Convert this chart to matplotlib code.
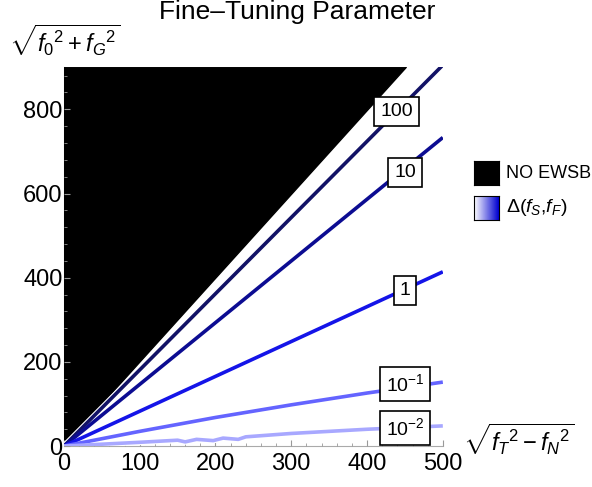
import numpy as np
import matplotlib.pyplot as plt
from matplotlib.ticker import MultipleLocator

plt.rcParams['font.family'] = ['Liberation Sans', 'DejaVu Sans']
plt.rcParams['mathtext.fontset'] = 'custom'
plt.rcParams['mathtext.rm'] = 'Liberation Sans'
plt.rcParams['mathtext.it'] = 'Liberation Sans:italic'
plt.rcParams['mathtext.sf'] = 'Liberation Sans'

# region with no EWSB (upper-left wedge)
noewsb_x = [0, 452, 0]
noewsb_y = [0, 900, 900]

# fine-tuning contours
contour_labels = ['100', '10', '1', r'$10^{-1}$', r'$10^{-2}$']
contour_colors = ['#121266', '#0c0c92', '#1414e8', '#6464ff', '#a8a8ff']
contour_x = [
    [0, 500],
    [0, 500],
    [0, 500],
    [0, 100, 200, 300, 400, 500],
    [0, 100, 150, 160, 175, 197, 210, 230, 240, 300, 400, 500],
]
contour_y = [
    [0, 905],
    [0, 733],
    [0, 414],
    [0, 35, 68, 98, 126, 152],
    [0, 9, 14, 10, 16, 13, 19, 16, 22, 30, 40, 48],
]
label_x = [439, 450, 450, 450, 450]
label_y = [795, 650, 369, 148, 43]

fig = plt.figure(figsize=(5.92, 4.87), dpi=100)
ax = fig.add_axes([0.108, 0.084, 0.640, 0.778])

ax.fill(noewsb_x, noewsb_y, color='black', zorder=1)
for xs, ys, c in zip(contour_x, contour_y, contour_colors):
    ax.plot(xs, ys, color='white', lw=4.2, zorder=2, solid_capstyle='butt')
    ax.plot(xs, ys, color=c, lw=2.6, zorder=3, solid_capstyle='butt')
for lab, lx, ly in zip(contour_labels, label_x, label_y):
    ax.text(lx, ly, lab, ha='center', va='center', fontsize=14, zorder=5,
            bbox=dict(boxstyle='square,pad=0.3', fc='white', ec='black', lw=1.2))

ax.set_xlim(0, 500)
ax.set_ylim(0, 900)
ax.xaxis.set_major_locator(MultipleLocator(100))
ax.xaxis.set_minor_locator(MultipleLocator(20))
ax.yaxis.set_major_locator(MultipleLocator(200))
ax.yaxis.set_minor_locator(MultipleLocator(40))
ax.tick_params(which='both', direction='in', color='#999999', labelsize=17)
ax.tick_params(axis='x', pad=5)
ax.tick_params(axis='y', pad=1)
ax.tick_params(which='major', length=4)
ax.tick_params(which='minor', length=2)
for s in ['top', 'right']:
    ax.spines[s].set_visible(False)
for s in ['left', 'bottom']:
    ax.spines[s].set_color('#aaaaaa')
    ax.spines[s].set_zorder(0)

fig.text(0.502, 0.975, 'Fine\u2013Tuning Parameter', ha='center', va='center', fontsize=19)
fig.text(0.015, 0.918, r'$\sqrt{f_0{}^2 + f_G{}^2}$', ha='left', va='center', fontsize=17)
fig.text(0.782, 0.097, r'$\sqrt{f_T{}^2 - f_N{}^2}$', ha='left', va='center', fontsize=17)

# legend
lax1 = fig.add_axes([474 / 592, 1 - 185 / 487, 25 / 592, 24 / 487])
lax1.set_facecolor('black')
lax1.set_xticks([])
lax1.set_yticks([])
lax2 = fig.add_axes([474 / 592, 1 - 220 / 487, 25 / 592, 24 / 487])
lax2.imshow(np.linspace(0, 1, 50)[None, :],
            cmap=plt.matplotlib.colors.LinearSegmentedColormap.from_list('g', ['white', '#0000d0']),
            aspect='auto')
lax2.set_xticks([])
lax2.set_yticks([])
fig.text(506 / 592, 1 - 173 / 487, 'NO EWSB', ha='left', va='center', fontsize=13)
fig.text(506 / 592, 1 - 208 / 487, r'$\Delta(f_S{,}f_F)$', ha='left', va='center', fontsize=14)

fig.savefig('out.png', dpi=100)
